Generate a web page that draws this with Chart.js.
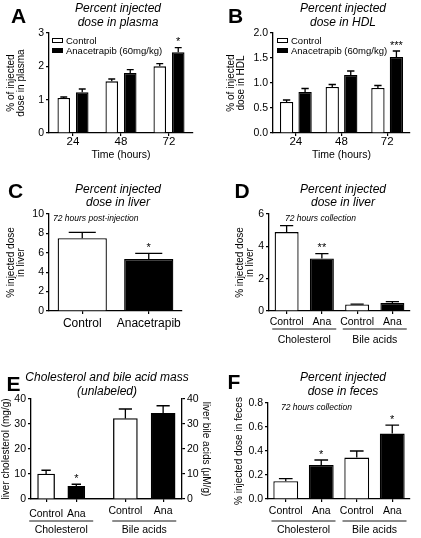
<!DOCTYPE html>
<html>
<head>
<meta charset="utf-8">
<script src="https://cdn.jsdelivr.net/npm/chart.js@4.4.1/dist/chart.umd.min.js"></script>
<style>
  html, body { margin: 0; padding: 0; background: #fff; }
  #page { position: relative; width: 421px; height: 538px; overflow: hidden; font-family: "Liberation Sans", Arial, sans-serif; color: #000; }
  #page canvas { position: absolute; }
  .txt { position: absolute; white-space: nowrap; line-height: 1; }
  .ctr { transform: translate(-50%, -50%); }
  .lft { transform: translate(0, -50%); }
  .title { font-size: 12px; font-style: italic; }
  .letter { font-size: 21px; font-weight: bold; }
  .note { font-size: 8.5px; font-style: italic; }
</style>
</head>
<body>
<div id="page">
  <canvas id="cA"></canvas>
  <canvas id="cB"></canvas>
  <canvas id="cC"></canvas>
  <canvas id="cD"></canvas>
  <canvas id="cE"></canvas>
  <canvas id="cF"></canvas>
</div>
<script>
// ---- data ----
const timeLabels = ["24", "48", "72"];
const treatLabels = ["Control", "Anacetrapib (60mg/kg)"];

const plasmaCtrl = [1.05, 1.55, 2.0];
const plasmaCtrlErr = [0.03, 0.07, 0.08];
const plasmaAna = [1.22, 1.8, 2.42];
const plasmaAnaErr = [0.1, 0.1, 0.14];
const plasmaAnaSig = ["", "", "*"];
const plasmaTicks = [0, 1, 2, 3];

const hdlCtrl = [0.62, 0.92, 0.9];
const hdlCtrlErr = [0.04, 0.05, 0.05];
const hdlAna = [0.82, 1.16, 1.52];
const hdlAnaErr = [0.07, 0.08, 0.12];
const hdlAnaSig = ["", "", "***"];
const hdlTicks = [0, 0.5, 1.0, 1.5, 2.0];

const liverLabels = ["Control", "Anacetrapib"];
const liverVals = [7.5, 5.35];
const liverErr = [0.6, 0.6];
const liverSig = ["", "*"];
const liverTicks = [0, 2, 4, 6, 8, 10];

const splitLabels = ["Control", "Ana", "Control", "Ana"];
const groupNames = ["Cholesterol", "Bile acids"];

const liverSplitVals = [4.88, 3.25, 0.4, 0.5];
const liverSplitErr = [0.4, 0.3, 0.02, 0.08];
const liverSplitSig = ["", "**", "", ""];
const liverSplitTicks = [0, 2, 4, 6];

const massCholLabels = ["Control", "Ana", "", "", ""];
const massBileLabels = ["", "", "Control", "Ana"];
const massChol = [10, 5.1, null, null, null];
const massCholErr = [1.5, 0.8, 0, 0, 0];
const massCholSig = ["", "*", "", "", ""];
const massBile = [null, null, 32.2, 34.3];
const massBileErr = [0, 0, 3.8, 3.0];
const massTicks = [0, 10, 20, 30, 40];

const fecesVals = [0.148, 0.283, 0.345, 0.545];
const fecesErr = [0.022, 0.042, 0.055, 0.07];
const fecesSig = ["", "*", "", "*"];
const fecesTicks = [0, 0.2, 0.4, 0.6, 0.8];

// ---- style ----
const FONT = '"Liberation Sans", Arial, sans-serif';
Chart.defaults.font.family = FONT;
Chart.defaults.color = "#000";
const altFill = ["#fff", "#000", "#fff", "#000"];

// error bars (upper half only) + significance stars
const errorBars = {
  id: "errorBars",
  afterDatasetsDraw(chart) {
    const ctx = chart.ctx;
    chart.data.datasets.forEach((ds, i) => {
      if (!ds.err) return;
      const meta = chart.getDatasetMeta(i);
      const ys = chart.scales[meta.yAxisID];
      meta.data.forEach((bar, j) => {
        const v = ds.data[j];
        if (v == null) return;
        const top = ys.getPixelForValue(v + ds.err[j]);
        const cap = bar.width * 0.55;
        ctx.save();
        ctx.strokeStyle = "#000";
        ctx.lineWidth = 1.3;
        ctx.beginPath();
        ctx.moveTo(bar.x, bar.y);
        ctx.lineTo(bar.x, top);
        ctx.moveTo(bar.x - cap / 2, top);
        ctx.lineTo(bar.x + cap / 2, top);
        ctx.stroke();
        if (ds.sig && ds.sig[j]) {
          ctx.fillStyle = "#000";
          ctx.font = "11px " + FONT;
          ctx.textAlign = "center";
          ctx.textBaseline = "alphabetic";
          ctx.fillText(ds.sig[j], bar.x, top - 2.3);
        }
        ctx.restore();
      });
    });
  }
};

// small legend inside the plot (A, B)
const boxLegend = {
  id: "boxLegend",
  afterDraw(chart, args, opts) {
    if (!opts.show) return;
    const { ctx, chartArea: a } = chart;
    ctx.save();
    ctx.font = "9.5px " + FONT;
    ctx.textBaseline = "middle";
    ctx.textAlign = "left";
    chart.data.datasets.forEach((ds, i) => {
      const y = a.top + opts.top + i * 10;
      const x = a.left + opts.left;
      ctx.fillStyle = ds.backgroundColor;
      ctx.fillRect(x, y, 11, 5);
      ctx.strokeStyle = "#000";
      ctx.lineWidth = 1;
      ctx.strokeRect(x + 0.5, y + 0.5, 10, 4);
      ctx.fillStyle = "#000";
      ctx.fillText(ds.label, x + 14, y + 3);
    });
    ctx.restore();
  }
};

// grey group lines + group names under the x labels (D, E, F)
const groupLines = {
  id: "groupLines",
  afterDraw(chart, args, opts) {
    if (!opts.groups) return;
    const ctx = chart.ctx;
    const b = chart.chartArea.bottom;
    ctx.save();
    opts.groups.forEach((g) => {
      const sc = chart.scales[g.axis || "x"];
      const cx = (sc.getPixelForValue(g.from) + sc.getPixelForValue(g.to)) / 2;
      ctx.strokeStyle = "#8c8c8c";
      ctx.lineWidth = 1.8;
      ctx.beginPath();
      ctx.moveTo(cx - 32, b + opts.lineOffset);
      ctx.lineTo(cx + 32, b + opts.lineOffset);
      ctx.stroke();
      ctx.fillStyle = "#000";
      ctx.font = "10.5px " + FONT;
      ctx.textAlign = "center";
      ctx.textBaseline = "middle";
      ctx.fillText(g.label, cx, b + opts.labelOffset);
    });
    ctx.restore();
  }
};

function yScale(ticksArr, decimals, extra) {
  return Object.assign({
    min: ticksArr[0],
    max: ticksArr[ticksArr.length - 1],
    afterBuildTicks: (s) => { s.ticks = ticksArr.map((v) => ({ value: v })); },
    ticks: { font: { size: 10.5 }, color: "#000", padding: 2, callback: (v) => decimals ? v.toFixed(decimals) : v },
    grid: { drawOnChartArea: false, tickLength: 3, color: "#000", lineWidth: 1.2 },
    border: { color: "#000", width: 1.3 },
  }, extra || {});
}

function xScale(fontSize, pad, extra) {
  return Object.assign({
    ticks: { font: { size: fontSize, lineHeight: 1 }, color: "#000", padding: pad, autoSkip: false, maxRotation: 0 },
    grid: { drawOnChartArea: false, tickLength: 3, color: "#000", lineWidth: 1.2, offset: false },
    border: { color: "#000", width: 1.3 },
  }, extra || {});
}

function yTitle(lines, pad, size) {
  return { display: true, text: lines, font: { size: size || 10, lineHeight: 1 }, padding: { top: pad, bottom: 0 }, color: "#000" };
}

// box = canvas [x, y, w, h] on the page, area = plot [left, top, right, bottom]
function makePanel(id, box, area, cfg) {
  const cv = document.getElementById(id);
  const [x, y, w, h] = box;
  const [l, t, r, b] = area;
  cv.width = w; cv.height = h;
  cv.style.left = x + "px"; cv.style.top = y + "px";
  cv.style.width = w + "px"; cv.style.height = h + "px";
  const s = cfg.options.scales;
  const hasRight = !!s.y2;
  Object.keys(s).forEach((k) => {
    if (k === "y") s[k].afterFit = (sc) => { sc.width = l - x; };
    else if (k === "y2") s[k].afterFit = (sc) => { sc.width = x + w - r; };
    else s[k].afterFit = (sc) => { sc.height = s[k].flat ? 0 : y + h - b; };
  });
  cfg.options.responsive = false;
  cfg.options.animation = false;
  cfg.options.devicePixelRatio = 1;
  cfg.options.layout = { padding: { left: 0, top: t - y, right: hasRight ? 0 : x + w - r, bottom: 0 } };
  cfg.options.plugins = Object.assign({ legend: { display: false }, tooltip: { enabled: false } }, cfg.options.plugins || {});
  cfg.plugins = [errorBars, boxLegend, groupLines];
  return new Chart(cv, cfg);
}

function txt(text, x, y, cls, align) {
  const d = document.createElement("div");
  d.className = "txt " + cls + " " + (align || "ctr");
  d.textContent = text;
  d.style.left = x + "px";
  d.style.top = y + "px";
  document.getElementById("page").appendChild(d);
}

// ---- A: plasma ----
makePanel("cA", [0, 20, 208, 150], [49, 33, 193, 133], {
  type: "bar",
  data: {
    labels: timeLabels,
    datasets: [
      { label: treatLabels[0], data: plasmaCtrl, err: plasmaCtrlErr, backgroundColor: "#fff", borderColor: "#000", borderWidth: 1.3 },
      { label: treatLabels[1], data: plasmaAna, err: plasmaAnaErr, sig: plasmaAnaSig, backgroundColor: "#000", borderColor: "#000", borderWidth: 1.3 },
    ],
  },
  options: {
    datasets: { bar: { categoryPercentage: 0.77, barPercentage: 0.68 } },
    scales: {
      x: xScale(11.5, 0, { title: { display: true, text: "Time (hours)", font: { size: 10.5 }, padding: { top: 0, bottom: 8.7 } } }),
      y: yScale(plasmaTicks, 0, { title: yTitle(["% of injected", "dose in plasma"], 6.5) }),
    },
    plugins: { boxLegend: { show: true, left: 3, top: 5 } },
  },
});

// ---- B: HDL ----
makePanel("cB", [210, 20, 211, 150], [273, 33, 410, 133], {
  type: "bar",
  data: {
    labels: timeLabels,
    datasets: [
      { label: treatLabels[0], data: hdlCtrl, err: hdlCtrlErr, backgroundColor: "#fff", borderColor: "#000", borderWidth: 1.3 },
      { label: treatLabels[1], data: hdlAna, err: hdlAnaErr, sig: hdlAnaSig, backgroundColor: "#000", borderColor: "#000", borderWidth: 1.3 },
    ],
  },
  options: {
    datasets: { bar: { categoryPercentage: 0.81, barPercentage: 0.72 } },
    scales: {
      x: xScale(11.5, 0, { title: { display: true, text: "Time (hours)", font: { size: 10.5 }, padding: { top: 0, bottom: 8.7 } } }),
      y: yScale(hdlTicks, 1, { title: yTitle(["% of injected", "dose in HDL"], 16.5) }),
    },
    plugins: { boxLegend: { show: true, left: 4, top: 5 } },
  },
});

// ---- C: liver, 72 h ----
makePanel("cC", [0, 200, 208, 140], [49, 214, 182, 311], {
  type: "bar",
  data: {
    labels: liverLabels,
    datasets: [
      { data: liverVals, err: liverErr, sig: liverSig, backgroundColor: ["#fff", "#000"], borderColor: "#000", borderWidth: 1.3,
        categoryPercentage: 1, barPercentage: 0.74 },
    ],
  },
  options: {
    scales: {
      x: xScale(12, 4),
      y: yScale(liverTicks, 0, { title: yTitle(["% injected dose", "in liver"], 6.5) }),
    },
  },
});

// ---- D: liver split ----
makePanel("cD", [210, 200, 211, 150], [269, 214, 410, 311], {
  type: "bar",
  data: {
    labels: splitLabels,
    datasets: [
      { data: liverSplitVals, err: liverSplitErr, sig: liverSplitSig, backgroundColor: altFill, borderColor: "#000", borderWidth: 1.3,
        categoryPercentage: 1, barPercentage: 0.68 },
    ],
  },
  options: {
    scales: {
      x: xScale(10.5, 3),
      y: yScale(liverSplitTicks, 0, { title: yTitle(["% injected dose", "in liver"], 25) }),
    },
    plugins: { groupLines: { lineOffset: 18, labelOffset: 29,
      groups: [{ label: groupNames[0], from: 0, to: 1 }, { label: groupNames[1], from: 2, to: 3 }] } },
  },
});

// ---- E: unlabeled mass (two y axes, two x category axes on one baseline) ----
const hideEmpty = (labels) => (c) => (labels[c.index] ? "#000" : "rgba(0,0,0,0)");
// mirrored labels are not clipped to the zero-height box; negative padding puts them back below the axis
const eX = xScale(10.5, -20.5, { type: "category", labels: massCholLabels, weight: 0, flat: true });
eX.ticks.mirror = true;
eX.grid.color = hideEmpty(massCholLabels);
const eX2 = xScale(10.5, 4, { type: "category", labels: massBileLabels, position: "bottom", weight: 1 });
eX2.grid.color = hideEmpty(massBileLabels);
makePanel("cE", [0, 385, 212, 153], [31, 399, 182, 499], {
  type: "bar",
  data: {
    datasets: [
      { data: massChol, err: massCholErr, sig: massCholSig, xAxisID: "x", yAxisID: "y", grouped: false,
        backgroundColor: ["#fff", "#000"], borderColor: "#000", borderWidth: 1.3, barThickness: 17 },
      { data: massBile, err: massBileErr, xAxisID: "x2", yAxisID: "y2", grouped: false,
        backgroundColor: ["#fff", "#fff", "#fff", "#000"], borderColor: "#000", borderWidth: 1.3, barThickness: 24 },
    ],
  },
  options: {
    scales: {
      x: eX,
      x2: eX2,
      y: yScale(massTicks, 0, { title: yTitle("liver cholesterol (mg/g)", 1) }),
      y2: yScale(massTicks, 0, { position: "right", title: yTitle("liver bile acids (μM/g)", 1) }),
    },
    plugins: { groupLines: { lineOffset: 22, labelOffset: 31,
      groups: [{ label: groupNames[0], axis: "x", from: 0, to: 1 }, { label: groupNames[1], axis: "x2", from: 2, to: 3 }] } },
  },
});

// ---- F: feces ----
makePanel("cF", [210, 385, 211, 153], [268, 403, 410, 499], {
  type: "bar",
  data: {
    labels: splitLabels,
    datasets: [
      { data: fecesVals, err: fecesErr, sig: fecesSig, backgroundColor: altFill, borderColor: "#000", borderWidth: 1.3,
        categoryPercentage: 1, barPercentage: 0.7 },
    ],
  },
  options: {
    scales: {
      x: xScale(10.5, 4),
      y: yScale(fecesTicks, 1, { title: yTitle("% injected dose in feces", 24) }),
    },
    plugins: { groupLines: { lineOffset: 22, labelOffset: 31,
      groups: [{ label: groupNames[0], from: 0, to: 1 }, { label: groupNames[1], from: 2, to: 3 }] } },
  },
});

// ---- titles, letters, notes ----
txt("A", 18.5, 14.5, "letter");
txt("B", 235.5, 14.5, "letter");
txt("C", 15.5, 189.5, "letter");
txt("D", 242, 189.5, "letter");
txt("E", 13.5, 382.5, "letter");
txt("F", 234, 380.5, "letter");

txt("Percent injected", 118, 8, "title");
txt("dose in plasma", 118, 21.5, "title");
txt("Percent injected", 343, 8, "title");
txt("dose in HDL", 343, 21.5, "title");
txt("Percent injected", 118, 188.5, "title");
txt("dose in liver", 118, 202, "title");
txt("Percent injected", 343, 188.5, "title");
txt("dose in liver", 343, 202, "title");
txt("Cholesterol and bile acid mass", 107, 377, "title");
txt("(unlabeled)", 107, 390.5, "title");
txt("Percent injected", 343, 377, "title");
txt("dose in feces", 343, 390.5, "title");

txt("72 hours post-injection", 53, 218, "note", "lft");
txt("72 hours collection", 285, 218, "note", "lft");
txt("72 hours collection", 281, 407, "note", "lft");
</script>
</body>
</html>
